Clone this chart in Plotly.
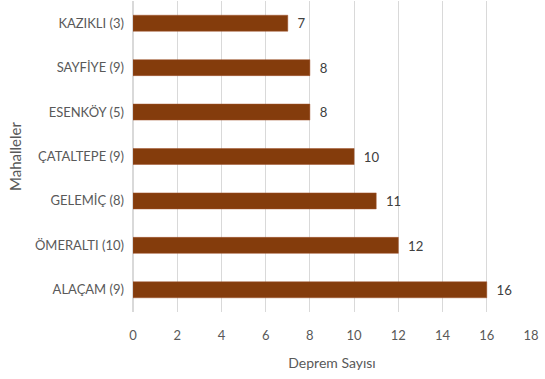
import plotly.graph_objects as go

categories = ["ALAÇAM (9)", "ÖMERALTI (10)", "GELEMİÇ (8)", "ÇATALTEPE (9)", "ESENKÖY (5)", "SAYFİYE (9)", "KAZIKLI (3)"]
values = [16, 12, 11, 10, 8, 8, 7]
x_ticks = list(range(0, 19, 2))

font_family = "Lato, Liberation Sans Narrow, sans-serif"

fig = go.Figure(go.Bar(
    y=categories, x=values, orientation="h",
    marker=dict(color="#843C0C", line=dict(color="#A0522D", width=0.5)),
    text=values, texttemplate="  %{x}", textposition="outside",
    textfont=dict(family=font_family, size=14, color="#404040"),
    cliponaxis=False,
))

fig.update_layout(
    width=545, height=379,
    margin=dict(l=133, r=14, t=1, b=67),
    paper_bgcolor="white", plot_bgcolor="white",
    bargap=0.64,
    showlegend=False,
    font=dict(family=font_family, size=13, color="#595959"),
)
fig.update_xaxes(
    range=[0, 18], tickvals=x_ticks, showgrid=True, gridcolor="#D9D9D9", gridwidth=1,
    zeroline=True, zerolinecolor="#D9D9D9", showline=False, ticks="",
    ticklabelstandoff=14,
    tickfont=dict(family=font_family, size=13, color="#595959"),
    title=dict(text="Deprem Sayısı", font=dict(family=font_family, size=14, color="#595959"), standoff=16),
)
fig.update_yaxes(
    showgrid=False, showline=False, ticks="", ticklabelstandoff=8,
    tickfont=dict(family=font_family, size=13, color="#595959"),
    title=dict(text="Mahalleler", font=dict(family=font_family, size=15, color="#595959"), standoff=9),
)

fig.write_html("out.html")
